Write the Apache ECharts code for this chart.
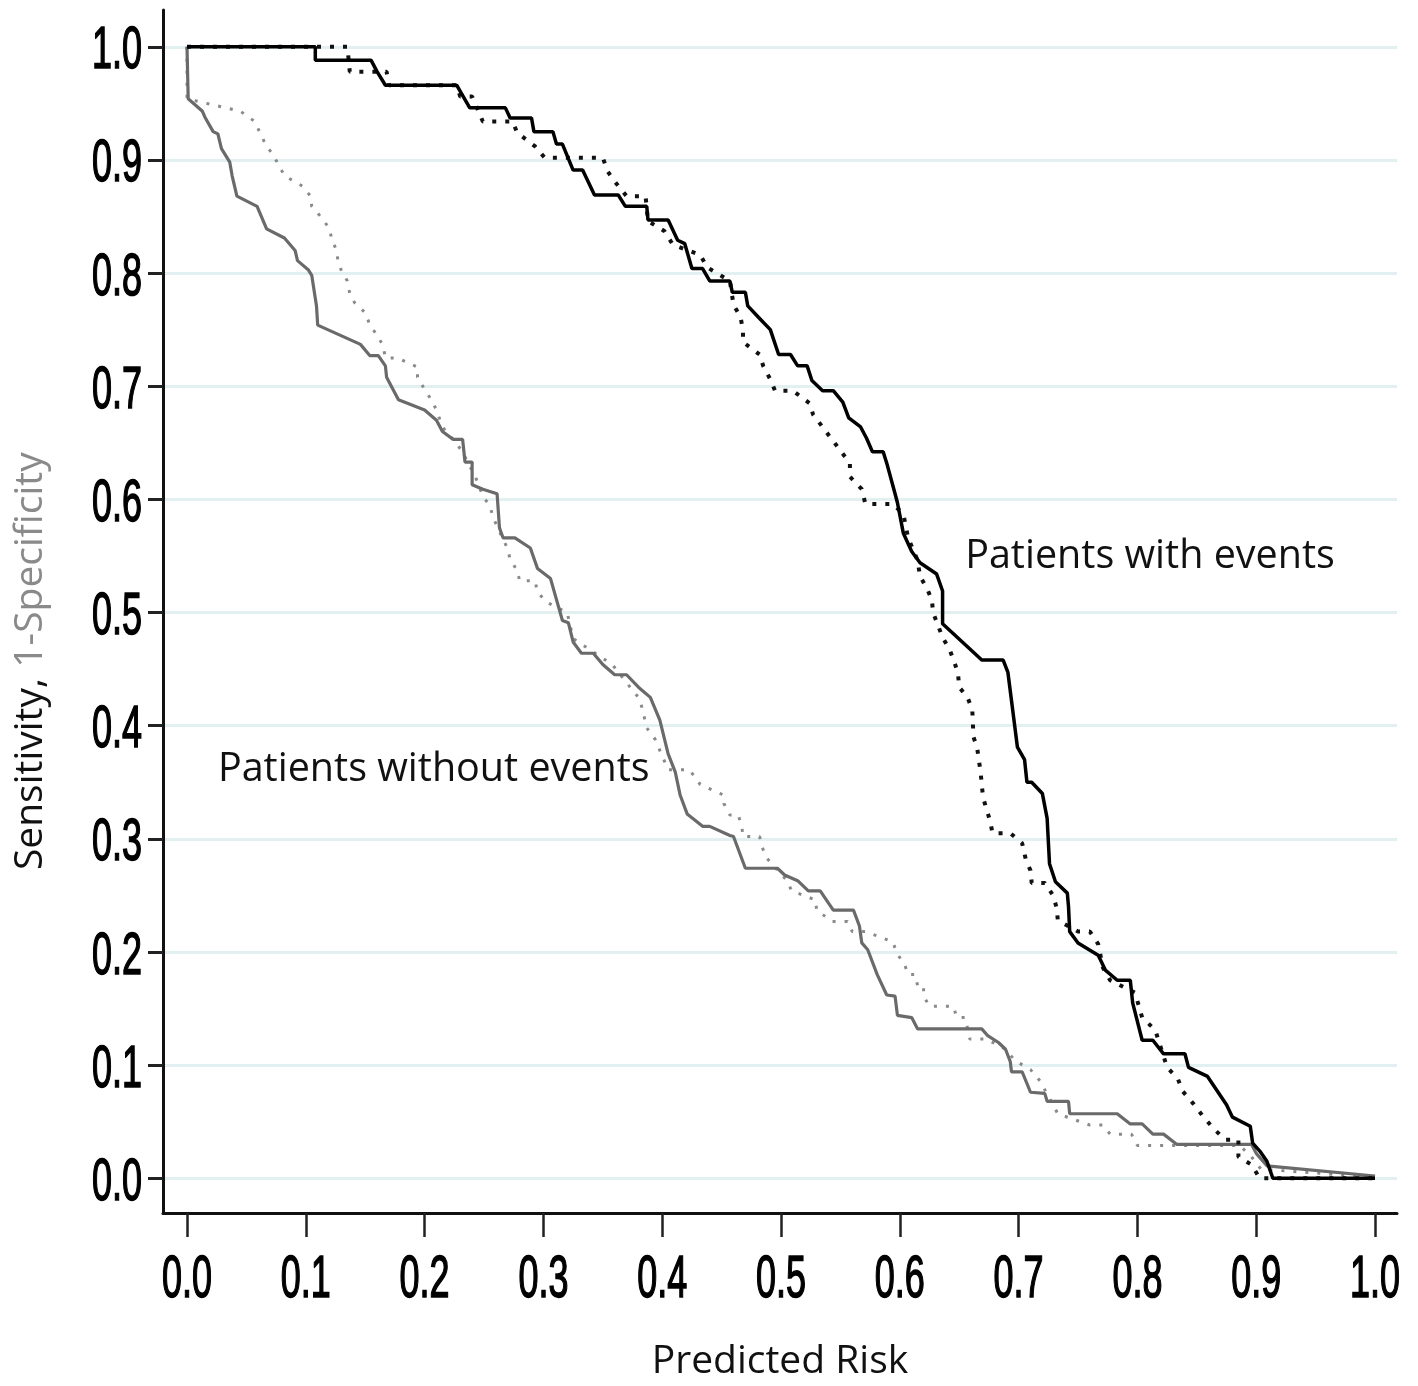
<!DOCTYPE html>
<html>
<head>
<meta charset="utf-8">
<script src="https://cdn.jsdelivr.net/npm/echarts@6/dist/echarts.min.js"></script>
<style>
html,body{margin:0;padding:0;background:#fff;}
#chart{width:1418px;height:1386px;}
</style>
</head>
<body>
<div id="chart"></div>
<script>
// Tick values
const xTicks = [0, 0.1, 0.2, 0.3, 0.4, 0.5, 0.6, 0.7, 0.8, 0.9, 1.0];
const yTicks = [0, 0.1, 0.2, 0.3, 0.4, 0.5, 0.6, 0.7, 0.8, 0.9, 1.0];

// Sensitivity (patients with events), model A – solid black
const sensSolid = [
[0,1],[0.108,1],[0.108,0.988],[0.155,0.988],[0.160,0.978],[0.167,0.966],[0.227,0.966],[0.238,0.946],
[0.268,0.946],[0.272,0.937],[0.290,0.937],[0.292,0.925],[0.308,0.925],[0.311,0.914],[0.316,0.914],
[0.325,0.891],[0.333,0.891],[0.343,0.869],[0.363,0.869],[0.369,0.859],[0.387,0.859],[0.388,0.847],
[0.405,0.847],[0.413,0.829],[0.419,0.826],[0.425,0.804],[0.434,0.804],[0.440,0.793],[0.457,0.793],
[0.459,0.783],[0.470,0.783],[0.472,0.771],[0.481,0.761],[0.491,0.750],[0.498,0.728],[0.508,0.728],
[0.514,0.718],[0.522,0.718],[0.526,0.705],[0.535,0.696],[0.544,0.696],[0.552,0.686],[0.557,0.672],
[0.567,0.664],[0.572,0.654],[0.577,0.642],[0.586,0.642],[0.589,0.632],[0.596,0.605],[0.598,0.597],
[0.603,0.570],[0.610,0.554],[0.617,0.544],[0.631,0.534],[0.636,0.519],[0.636,0.490],[0.669,0.458],
[0.687,0.458],[0.691,0.447],[0.699,0.381],[0.705,0.370],[0.707,0.350],[0.711,0.350],[0.720,0.340],
[0.724,0.318],[0.726,0.278],[0.731,0.262],[0.741,0.252],[0.742,0.240],[0.743,0.218],[0.750,0.208],
[0.767,0.197],[0.773,0.184],[0.783,0.175],[0.794,0.175],[0.796,0.155],[0.804,0.122],[0.813,0.122],
[0.822,0.110],[0.840,0.110],[0.843,0.098],[0.859,0.090],[0.875,0.065],[0.880,0.054],[0.895,0.046],
[0.897,0.031],[0.903,0.024],[0.909,0.015],[0.914,0],[1.0,0]
];

// Sensitivity, model B – dotted black
const sensDotted = [
[0,1],[0.135,1],[0.137,0.978],[0.168,0.978],[0.170,0.966],[0.227,0.966],[0.230,0.956],[0.240,0.956],
[0.249,0.934],[0.274,0.934],[0.278,0.924],[0.293,0.912],[0.301,0.902],[0.350,0.902],[0.354,0.890],
[0.360,0.881],[0.370,0.868],[0.386,0.868],[0.388,0.846],[0.402,0.837],[0.409,0.825],[0.432,0.816],
[0.438,0.805],[0.457,0.793],[0.460,0.772],[0.466,0.761],[0.468,0.749],[0.468,0.739],[0.482,0.728],
[0.485,0.718],[0.491,0.706],[0.495,0.696],[0.510,0.696],[0.524,0.685],[0.527,0.675],[0.558,0.632],
[0.558,0.620],[0.568,0.609],[0.571,0.596],[0.594,0.596],[0.603,0.587],[0.607,0.566],[0.615,0.546],
[0.617,0.532],[0.623,0.521],[0.627,0.511],[0.628,0.500],[0.636,0.478],[0.642,0.467],[0.646,0.456],
[0.649,0.446],[0.650,0.434],[0.657,0.425],[0.661,0.414],[0.662,0.390],[0.665,0.381],[0.668,0.359],
[0.670,0.337],[0.673,0.326],[0.676,0.316],[0.678,0.305],[0.693,0.305],[0.703,0.296],[0.706,0.282],
[0.710,0.272],[0.711,0.261],[0.722,0.261],[0.729,0.250],[0.732,0.239],[0.733,0.228],[0.750,0.218],
[0.760,0.218],[0.767,0.207],[0.771,0.186],[0.777,0.175],[0.798,0.164],[0.801,0.153],[0.804,0.142],
[0.815,0.131],[0.825,0.098],[0.834,0.088],[0.838,0.077],[0.847,0.066],[0.855,0.055],[0.864,0.044],
[0.874,0.034],[0.885,0.034],[0.885,0.019],[0.896,0.012],[0.903,0],[1.0,0]
];

// 1-Specificity (patients without events), model A – solid grey
const specSolid = [
[0,1],[0.001,0.954],[0.013,0.943],[0.015,0.938],[0.022,0.925],[0.026,0.923],[0.029,0.910],[0.036,0.898],
[0.038,0.886],[0.042,0.868],[0.059,0.859],[0.067,0.839],[0.082,0.831],[0.091,0.820],[0.093,0.811],
[0.102,0.803],[0.105,0.798],[0.109,0.771],[0.110,0.754],[0.146,0.737],[0.154,0.727],[0.161,0.727],
[0.167,0.718],[0.168,0.708],[0.178,0.688],[0.200,0.679],[0.210,0.670],[0.215,0.660],[0.224,0.653],
[0.232,0.653],[0.234,0.633],[0.240,0.633],[0.240,0.613],[0.249,0.609],[0.261,0.605],[0.263,0.575],
[0.266,0.566],[0.276,0.566],[0.289,0.557],[0.295,0.539],[0.306,0.530],[0.316,0.493],[0.321,0.491],
[0.325,0.474],[0.332,0.464],[0.342,0.464],[0.350,0.454],[0.360,0.445],[0.370,0.445],[0.380,0.434],
[0.390,0.425],[0.398,0.405],[0.405,0.375],[0.411,0.359],[0.415,0.339],[0.421,0.322],[0.434,0.311],
[0.440,0.311],[0.457,0.303],[0.460,0.302],[0.470,0.274],[0.497,0.274],[0.503,0.268],[0.514,0.263],
[0.523,0.254],[0.533,0.254],[0.544,0.237],[0.561,0.237],[0.566,0.223],[0.568,0.208],[0.573,0.202],
[0.581,0.180],[0.589,0.162],[0.596,0.161],[0.598,0.144],[0.610,0.142],[0.615,0.132],[0.669,0.132],
[0.674,0.126],[0.683,0.120],[0.689,0.114],[0.693,0.103],[0.694,0.094],[0.703,0.094],[0.710,0.076],
[0.722,0.075],[0.724,0.068],[0.742,0.068],[0.743,0.057],[0.783,0.057],[0.794,0.048],[0.804,0.048],
[0.813,0.039],[0.822,0.039],[0.833,0.030],[0.896,0.030],[0.900,0.022],[0.909,0.011],[1.0,0.002]
];

// 1-Specificity, model B – dotted grey
const specDotted = [
[0,1],[0,0.954],[0.045,0.943],[0.057,0.934],[0.061,0.925],[0.066,0.914],[0.072,0.905],[0.077,0.896],
[0.082,0.886],[0.097,0.877],[0.104,0.868],[0.105,0.859],[0.114,0.848],[0.120,0.839],[0.122,0.829],
[0.126,0.820],[0.127,0.811],[0.130,0.802],[0.135,0.793],[0.137,0.782],[0.141,0.774],[0.150,0.765],
[0.154,0.754],[0.160,0.745],[0.165,0.736],[0.167,0.725],[0.177,0.725],[0.194,0.717],[0.194,0.708],
[0.199,0.699],[0.205,0.689],[0.210,0.679],[0.213,0.670],[0.217,0.661],[0.224,0.653],[0.232,0.642],
[0.237,0.631],[0.242,0.622],[0.249,0.603],[0.255,0.594],[0.258,0.583],[0.270,0.556],[0.272,0.547],
[0.278,0.537],[0.280,0.528],[0.293,0.528],[0.295,0.518],[0.303,0.509],[0.320,0.500],[0.325,0.477],
[0.358,0.454],[0.373,0.434],[0.380,0.425],[0.383,0.416],[0.387,0.398],[0.394,0.388],[0.405,0.361],
[0.423,0.361],[0.432,0.348],[0.451,0.339],[0.452,0.331],[0.457,0.321],[0.464,0.321],[0.467,0.311],
[0.468,0.302],[0.482,0.302],[0.484,0.293],[0.488,0.283],[0.505,0.263],[0.509,0.254],[0.529,0.246],
[0.530,0.237],[0.543,0.227],[0.556,0.227],[0.560,0.218],[0.571,0.218],[0.594,0.209],[0.598,0.198],
[0.604,0.189],[0.607,0.180],[0.613,0.180],[0.615,0.170],[0.620,0.170],[0.620,0.161],[0.625,0.152],
[0.645,0.152],[0.648,0.142],[0.655,0.142],[0.659,0.123],[0.673,0.123],[0.689,0.114],[0.697,0.104],
[0.710,0.096],[0.718,0.086],[0.733,0.057],[0.760,0.047],[0.771,0.047],[0.777,0.039],[0.795,0.039],
[0.800,0.029],[0.886,0.029],[0.896,0.019],[0.904,0.008],[1.0,0.001]
];

const annotWith = 'Patients with events';
const annotWithout = 'Patients without events';
const xTitle = 'Predicted Risk';
const yTitleA = 'Sensitivity, ';
const yTitleB = '1-Specificity';

const X_MIN = -0.0202, X_MAX = 1.0185, Y_MIN = -0.0307, Y_MAX = 1.0325;

const chart = echarts.init(document.getElementById('chart'), null, {renderer: 'canvas'});
const tickFont = '"Liberation Sans", Arial, sans-serif';
const textFont = '"Open Sans", "Noto Sans", sans-serif';

chart.setOption({
  animation: false,
  backgroundColor: '#ffffff',
  grid: {left: 163, right: 21, top: 10, bottom: 164, containLabel: false},
  xAxis: {
    type: 'value', min: X_MIN, max: X_MAX,
    name: xTitle, nameLocation: 'middle', nameGap: 129,
    nameTextStyle: {fontFamily: textFont, fontSize: 39, color: '#111'},
    axisLine: {show: true, onZero: false, lineStyle: {color: '#111', width: 3}},
    axisTick: {show: true, customValues: xTicks, length: 24, lineStyle: {color: '#222', width: 2.5}},
    axisLabel: {show: false, customValues: xTicks},
    splitLine: {show: false}
  },
  yAxis: {
    type: 'value', min: Y_MIN, max: Y_MAX,
    axisLine: {show: true, onZero: false, lineStyle: {color: '#111', width: 3}},
    axisTick: {show: true, customValues: yTicks, length: 15, lineStyle: {color: '#222', width: 3}},
    axisLabel: {show: false, customValues: yTicks},
    splitLine: {show: true, lineStyle: {color: '#e2f0f2', width: 3}}
  },
  series: [
    {name: '1-Specificity B', type: 'line', data: specDotted, symbol: 'none', z: 2,
      lineStyle: {color: '#8a8a8a', width: 3, type: [3, 9]}},
    {name: '1-Specificity A', type: 'line', data: specSolid, symbol: 'none', z: 3,
      lineStyle: {color: '#6a6a6a', width: 3.2}},
    {name: 'Sensitivity B', type: 'line', data: sensDotted, symbol: 'none', z: 4,
      lineStyle: {color: '#111', width: 4, type: [4, 9]}},
    {name: 'Sensitivity A', type: 'line', data: sensSolid, symbol: 'none', z: 5,
      lineStyle: {color: '#000', width: 3.5}}
  ]
});

// Condensed tick labels placed through the axis scales
const graphics = [];
const labelStyle = {fontFamily: tickFont, fontSize: 60, fontWeight: 'normal', fill: '#000',
  stroke: '#000', lineWidth: 1.6, verticalAlign: 'middle'};
xTicks.forEach(v => {
  const p = chart.convertToPixel({xAxisIndex: 0, yAxisIndex: 0}, [v, Y_MIN]);
  graphics.push({type: 'text', x: p[0], y: p[1] + 67, scaleX: 0.6, silent: true,
    style: Object.assign({text: v.toFixed(1), align: 'center'}, labelStyle)});
});
yTicks.forEach(v => {
  const p = chart.convertToPixel({xAxisIndex: 0, yAxisIndex: 0}, [X_MIN, v]);
  graphics.push({type: 'text', x: p[0] - 21, y: p[1] + 5, scaleX: 0.6, silent: true,
    style: Object.assign({text: v.toFixed(1), align: 'right'}, labelStyle)});
});
// Y axis title (two-tone)
const yMid = chart.convertToPixel({yAxisIndex: 0}, 0.457);
graphics.push({type: 'text', x: 31, y: yMid, rotation: Math.PI / 2, silent: true,
  style: {text: '{a|' + yTitleA + '}{b|' + yTitleB + '}', align: 'center', verticalAlign: 'middle',
    rich: {a: {fontFamily: textFont, fontSize: 39, fill: '#111'},
           b: {fontFamily: textFont, fontSize: 39, fill: '#8a8a8a'}}}});
// Annotations
const pWith = chart.convertToPixel({xAxisIndex: 0, yAxisIndex: 0}, [0.655, 0.549]);
const pWithout = chart.convertToPixel({xAxisIndex: 0, yAxisIndex: 0}, [0.026, 0.361]);
graphics.push({type: 'text', x: pWith[0], y: pWith[1], silent: true,
  style: {text: annotWith, fontFamily: textFont, fontSize: 39.5, fill: '#111', align: 'left', verticalAlign: 'middle'}});
graphics.push({type: 'text', x: pWithout[0], y: pWithout[1], silent: true,
  style: {text: annotWithout, fontFamily: textFont, fontSize: 39.5, fill: '#111', align: 'left', verticalAlign: 'middle'}});

chart.setOption({graphic: graphics});
</script>
</body>
</html>
